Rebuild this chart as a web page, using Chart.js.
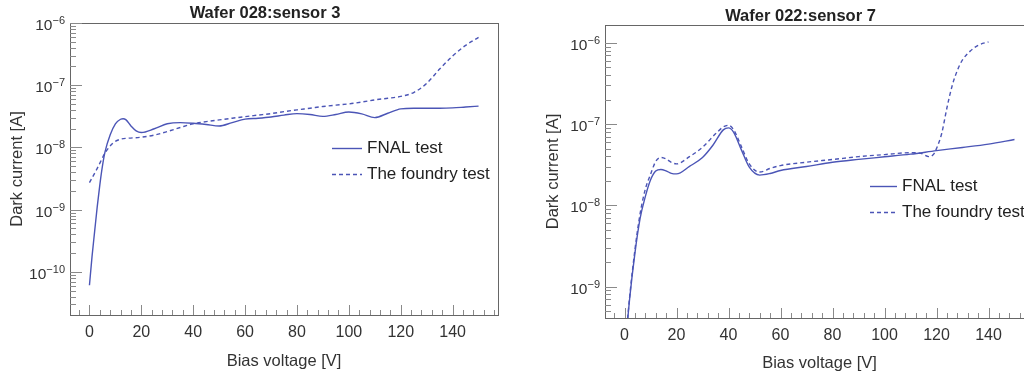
<!DOCTYPE html>
<html>
<head>
<meta charset="utf-8">
<script src="https://cdn.jsdelivr.net/npm/chart.js@4.4.1/dist/chart.umd.min.js"></script>
<style>
  html, body { margin: 0; padding: 0; background: #fff; overflow: hidden; width: 1024px; height: 376px; }
  .box { position: absolute; top: 0; height: 376px; }
</style>
</head>
<body>
<div class="box" style="left:0;width:512px"><canvas id="chartA"></canvas></div>
<div class="box" style="left:512px;width:536px"><canvas id="chartB"></canvas></div>
<script>
// Wafer 028 : sensor 3
const waferA_fnalVolt = [0, 1, 2, 3, 4, 5, 6, 8, 10, 12, 13, 14, 16, 18, 20, 25, 30, 35, 40, 45, 50, 55, 60, 65, 70, 75, 80, 85, 90, 95, 100, 105, 110, 115, 120, 125, 130, 135, 140, 145, 150];
const waferA_fnalCurr = [6.1e-11, 1.78e-10, 4.47e-10, 1.12e-9, 2.51e-9, 5.0e-9, 8.5e-9, 1.6e-8, 2.4e-8, 2.84e-8, 2.9e-8, 2.8e-8, 2.22e-8, 1.85e-8, 1.74e-8, 2.0e-8, 2.4e-8, 2.51e-8, 2.45e-8, 2.34e-8, 2.21e-8, 2.51e-8, 2.85e-8, 2.95e-8, 3.09e-8, 3.31e-8, 3.5e-8, 3.39e-8, 3.16e-8, 3.39e-8, 3.72e-8, 3.47e-8, 3.02e-8, 3.55e-8, 4.17e-8, 4.27e-8, 4.27e-8, 4.27e-8, 4.32e-8, 4.47e-8, 4.62e-8];
const waferA_foundryVolt = [0, 3, 6, 9, 12, 15, 20, 25, 30, 35, 40, 45, 50, 55, 60, 65, 70, 75, 80, 85, 90, 95, 100, 105, 110, 115, 120, 125, 130, 135, 140, 145, 150];
const waferA_foundryCurr = [2.72e-9, 4.61e-9, 8.1e-9, 1.17e-8, 1.36e-8, 1.41e-8, 1.46e-8, 1.58e-8, 1.8e-8, 2.09e-8, 2.4e-8, 2.6e-8, 2.77e-8, 2.95e-8, 3.13e-8, 3.31e-8, 3.5e-8, 3.76e-8, 4.02e-8, 4.27e-8, 4.55e-8, 4.79e-8, 5.01e-8, 5.37e-8, 5.82e-8, 6.17e-8, 6.61e-8, 7.64e-8, 1.07e-7, 1.82e-7, 2.95e-7, 4.37e-7, 5.87e-7];

// Wafer 022 : sensor 7
const waferB_fnalVolt = [0, 2, 4, 6, 8, 10, 12, 14, 16, 18, 20, 25, 30, 34, 38, 40, 42, 45, 48, 52, 56, 60, 70, 80, 90, 100, 110, 120, 130, 140, 150];
const waferB_fnalCurr = [1.4e-10, 7.2e-10, 2.57e-9, 6.9e-9, 1.28e-8, 2.05e-8, 2.64e-8, 2.77e-8, 2.66e-8, 2.48e-8, 2.44e-8, 3.02e-8, 3.89e-8, 5.5e-8, 8.5e-8, 9.0e-8, 7.94e-8, 4.79e-8, 2.95e-8, 2.36e-8, 2.47e-8, 2.69e-8, 3.01e-8, 3.39e-8, 3.68e-8, 3.96e-8, 4.27e-8, 4.72e-8, 5.16e-8, 5.68e-8, 6.47e-8];
const waferB_foundryVolt = [0, 2, 4, 6, 8, 10, 12, 14, 16, 18, 20, 25, 30, 35, 38, 40, 42, 45, 48, 52, 56, 60, 70, 80, 90, 100, 110, 114, 117, 119, 120, 122, 124, 126, 128, 130, 133, 136, 140];
const waferB_foundryCurr = [1.5e-10, 7.6e-10, 2.82e-9, 7.9e-9, 1.58e-8, 2.4e-8, 3.47e-8, 3.89e-8, 3.72e-8, 3.39e-8, 3.24e-8, 3.98e-8, 5.19e-8, 7.59e-8, 9.23e-8, 9.66e-8, 8.51e-8, 5.25e-8, 3.24e-8, 2.57e-8, 2.85e-8, 3.09e-8, 3.4e-8, 3.67e-8, 3.98e-8, 4.22e-8, 4.45e-8, 4.37e-8, 3.98e-8, 4.3e-8, 5.0e-8, 7.67e-8, 1.58e-7, 2.95e-7, 4.57e-7, 6.17e-7, 7.94e-7, 9.33e-7, 1.03e-6];

const seriesLabels = ['FNAL test', 'The foundry test'];
const lineColor = '#4b55b6';
const fontFamily = '"Liberation Sans", Arial, sans-serif';

Chart.defaults.font.family = fontFamily;
Chart.defaults.color = '#333';

// decade exponent of a log tick, or null when it is not a power of ten
function decadeExp(v) {
    const lg = Math.log10(v);
    const e = Math.round(lg);
    return Math.abs(lg - e) < 1e-6 ? e : null;
}

// frame, inner ticks, 10^n labels, title and legend drawn ROOT style
const framePlugin = {
    id: 'frame',
    afterDraw(chart, args, opts) {
        const { ctx, chartArea: a } = chart;
        const x = chart.scales.x, y = chart.scales.y;
        ctx.save();
        ctx.strokeStyle = '#666';
        ctx.lineWidth = 1;
        ctx.strokeRect(Math.round(a.left) + 0.5, Math.round(a.top) + 0.5, Math.round(a.right - a.left), Math.round(a.bottom - a.top));

        ctx.strokeStyle = '#8a8a8a';
        ctx.beginPath();
        x.ticks.forEach(t => {
            const px = Math.round(x.getPixelForValue(t.value)) + 0.5;
            const len = t.value % 20 === 0 ? 10 : 5;
            ctx.moveTo(px, a.bottom);
            ctx.lineTo(px, a.bottom - len);
        });
        y.ticks.forEach(t => {
            const e = Math.floor(Math.log10(t.value) + 1e-9);
            const m = t.value / Math.pow(10, e);
            if (Math.abs(m - Math.round(m)) > 0.01) return;
            const py = Math.round(y.getPixelForValue(t.value)) + 0.5;
            const len = Math.round(m) === 1 ? 12 : 6;
            ctx.moveTo(a.left, py);
            ctx.lineTo(a.left + len, py);
        });
        ctx.stroke();

        // y labels as 10 with a raised exponent
        ctx.fillStyle = '#333';
        ctx.textAlign = 'right';
        ctx.textBaseline = 'alphabetic';
        y.ticks.forEach(t => {
            const e = decadeExp(t.value);
            if (e === null) return;
            const py = y.getPixelForValue(t.value);
            const expText = (e < 0 ? '\u2212' : '') + Math.abs(e);
            ctx.font = '11px ' + fontFamily;
            const expW = ctx.measureText(expText).width;
            const right = a.left - 5;
            ctx.fillText(expText, right, py + 1);
            ctx.font = '15.5px ' + fontFamily;
            ctx.fillText('10', right - expW, py + 7);
        });

        // title
        ctx.fillStyle = '#222';
        ctx.font = 'bold 16.5px ' + fontFamily;
        ctx.textAlign = 'center';
        ctx.textBaseline = 'middle';
        ctx.fillText(opts.title, (a.left + a.right) / 2 + opts.titleDx, opts.titleY);

        // legend
        ctx.font = '17px ' + fontFamily;
        ctx.textAlign = 'left';
        chart.data.datasets.forEach((ds, i) => {
            const ly = Math.round(a.top + opts.legendTop + i * 26) + 0.5;
            const lx = a.left + opts.legendLeft;
            ctx.strokeStyle = ds.borderColor;
            ctx.lineWidth = ds.borderWidth;
            ctx.setLineDash(ds.borderDash || []);
            ctx.beginPath();
            ctx.moveTo(lx, ly);
            ctx.lineTo(lx + opts.legendLine, ly);
            ctx.stroke();
            ctx.setLineDash([]);
            ctx.fillStyle = '#222';
            ctx.fillText(ds.label, a.left + 297, ly);
        });
        ctx.restore();
    }
};

function makeDataset(label, volts, currents, dash) {
    return {
        label: label,
        data: volts.map((v, i) => ({ x: v, y: currents[i] })),
        borderColor: lineColor,
        borderWidth: 1.4,
        borderDash: dash,
        pointRadius: 0,
        fill: false,
        cubicInterpolationMode: 'monotone'
    };
}

function createWaferChart(canvasId, s) {
    const ctx = document.getElementById(canvasId);
    return new Chart(ctx, {
        type: 'line',
        data: {
            datasets: [
                makeDataset(seriesLabels[0], s.fnalVolt, s.fnalCurr, []),
                makeDataset(seriesLabels[1], s.foundryVolt, s.foundryCurr, [4, 3])
            ]
        },
        options: {
            responsive: true,
            maintainAspectRatio: false,
            animation: false,
            layout: { padding: { top: s.padTop, right: 14, left: 0, bottom: 0 } },
            scales: {
                x: {
                    type: 'linear',
                    min: -7.5,
                    max: 157.5,
                    grid: { display: false },
                    border: { display: false },
                    ticks: {
                        stepSize: 4,
                        includeBounds: false,
                        autoSkip: false,
                        maxRotation: 0,
                        padding: 0,
                        font: { size: 16 },
                        callback: v => v % 20 === 0 ? String(v) : ''
                    },
                    title: {
                        display: true,
                        text: 'Bias voltage [V]',
                        font: { size: 16.5 },
                        color: '#333',
                        padding: { top: 0, bottom: s.xTitlePad }
                    },
                    afterFit: scale => { scale.height = s.xHeight; }
                },
                y: {
                    type: 'logarithmic',
                    min: s.yMin,
                    max: s.yMax,
                    grid: { display: false },
                    border: { display: false },
                    ticks: {
                        display: false,
                        autoSkip: false
                    },
                    title: {
                        display: true,
                        text: 'Dark current [A]',
                        font: { size: 16.5 },
                        color: '#333',
                        padding: { top: s.yTitlePad, bottom: 0 }
                    },
                    afterFit: scale => { scale.width = s.yWidth; }
                }
            },
            plugins: {
                legend: { display: false },
                tooltip: { enabled: false },
                frame: {
                    title: s.title,
                    titleDx: -19,
                    titleY: s.titleY,
                    legendLeft: s.legendLeft,
                    legendLine: s.legendLine,
                    legendTop: s.legendTop
                }
            }
        },
        plugins: [framePlugin]
    });
}

createWaferChart('chartA', {
    title: 'Wafer 028:sensor 3',
    fnalVolt: waferA_fnalVolt, fnalCurr: waferA_fnalCurr,
    foundryVolt: waferA_foundryVolt, foundryCurr: waferA_foundryCurr,
    yMin: 2.03e-11, yMax: 1e-6,
    padTop: 23, yWidth: 70, xHeight: 61,
    yTitlePad: 8, xTitlePad: 5,
    titleY: 13, legendLeft: 262, legendLine: 30, legendTop: 125
});

createWaferChart('chartB', {
    title: 'Wafer 022:sensor 7',
    fnalVolt: waferB_fnalVolt, fnalCurr: waferB_fnalCurr,
    foundryVolt: waferB_foundryVolt, foundryCurr: waferB_foundryCurr,
    yMin: 4.11e-10, yMax: 1.66e-6,
    padTop: 25, yWidth: 93, xHeight: 58,
    yTitlePad: 32, xTitlePad: 3,
    titleY: 16, legendLeft: 265, legendLine: 27, legendTop: 161
});
</script>
</body>
</html>
